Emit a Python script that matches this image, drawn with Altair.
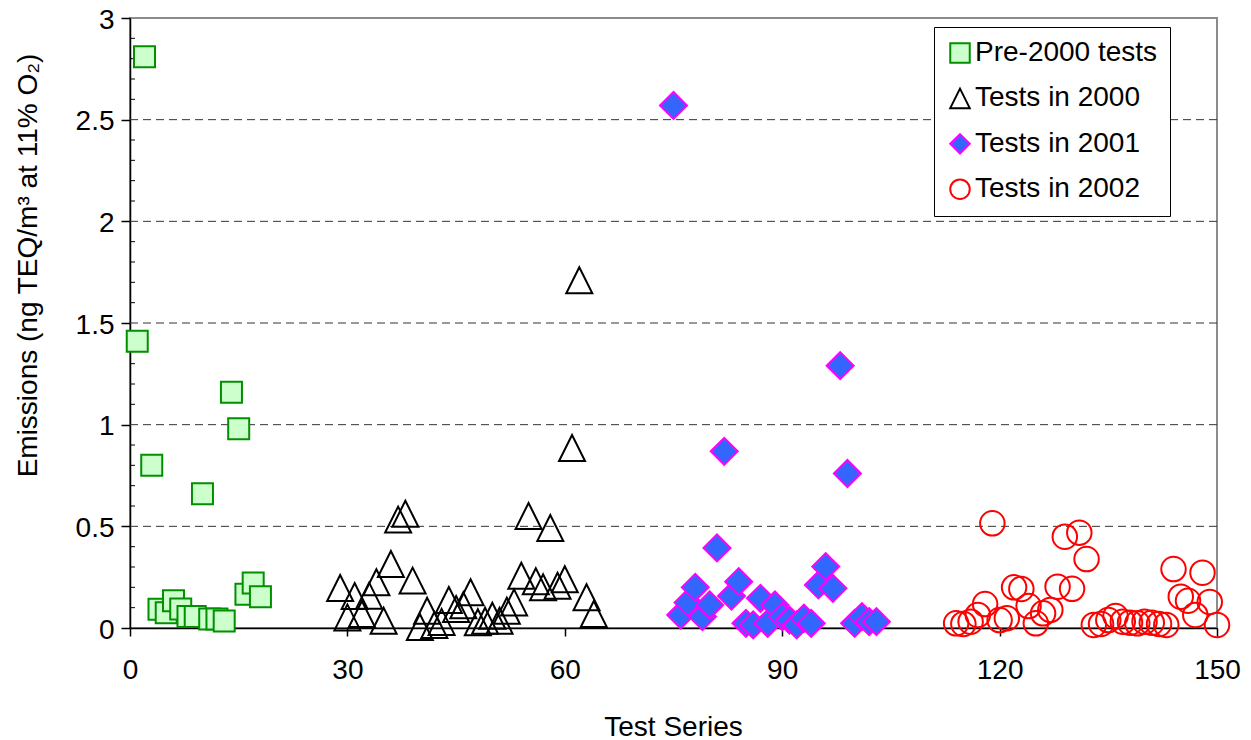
import altair as alt
import pandas as pd

FONT = "Liberation Sans"

SERIES = ["Pre-2000 tests", "Tests in 2000", "Tests in 2001", "Tests in 2002"]

PRE_X = [1, 2, 3, 4, 5, 6, 7, 8, 9, 10, 11, 12, 13, 14, 15, 16, 17, 18]
PRE_Y = [1.41, 2.81, 0.80, 0.092, 0.075, 0.134, 0.093, 0.056, 0.056, 0.66,
         0.044, 0.044, 0.034, 1.16, 0.98, 0.166, 0.221, 0.154]

T2000_X = [29, 30, 31, 32, 33, 34, 35, 36, 37, 38, 39, 40, 41, 42, 43, 44, 45, 46,
           47, 48, 49, 50, 51, 52, 53, 54, 55, 56, 57, 58, 59, 60, 61, 62, 63, 64]
T2000_Y = [0.197, 0.052, 0.157, 0.069, 0.159, 0.225, 0.036, 0.315, 0.533, 0.562,
           0.233, 0.005, 0.085, 0.015, 0.030, 0.138, 0.093, 0.112, 0.176, 0.028,
           0.036, 0.060, 0.036, 0.085, 0.126, 0.257, 0.551, 0.230, 0.200, 0.492,
           0.208, 0.240, 0.885, 1.71, 0.151, 0.069]

T2001_X = [75, 76, 77, 78, 79, 80, 81, 82, 83, 84, 85, 86, 87, 88, 89, 90, 91, 92,
           93, 94, 95, 96, 97, 98, 99, 100, 101, 102, 103]
T2001_Y = [2.57, 0.064, 0.125, 0.200, 0.056, 0.113, 0.394, 0.869, 0.157, 0.228,
           0.023, 0.015, 0.146, 0.023, 0.113, 0.056, 0.039, 0.015, 0.048, 0.023,
           0.212, 0.302, 0.195, 1.29, 0.76, 0.023, 0.056, 0.031, 0.031]

T2002_X = [114, 115, 116, 117, 118, 119, 120, 121, 122, 123, 124, 125, 126, 127,
           128, 129, 130, 131, 132, 133, 134, 135, 136, 137, 138, 139, 140, 141,
           142, 143, 144, 145, 146, 147, 148, 149, 150]
T2002_Y = [0.023, 0.020, 0.031, 0.064, 0.118, 0.515, 0.039, 0.048, 0.200, 0.192,
           0.108, 0.023, 0.072, 0.089, 0.203, 0.449, 0.193, 0.469, 0.339, 0.015,
           0.020, 0.039, 0.059, 0.031, 0.026, 0.023, 0.031, 0.026, 0.020, 0.015,
           0.290, 0.154, 0.134, 0.064, 0.272, 0.128, 0.015]

X_TICKS = [0, 30, 60, 90, 120, 150]
Y_TICKS = [0, 0.5, 1, 1.5, 2, 2.5, 3]
GRID_VALUES = [0.5, 1, 1.5, 2, 2.5]
MINOR_TICKS = [0.1, 0.2, 0.3, 0.4, 0.6, 0.7, 0.8, 0.9, 1.1, 1.2, 1.3, 1.4,
               1.6, 1.7, 1.8, 1.9, 2.1, 2.2, 2.3, 2.4, 2.6, 2.7, 2.8, 2.9]

# styles (kept apart from the data)
SHAPES = ["square", "M0,-1L-1,1L1,1Z", "diamond", "circle"]
FILLS = ["#CCFFCC", "transparent", "#3366FF", "transparent"]
STROKES = ["#009000", "#000000", "#FF00FF", "#FF0000"]
SIZES = [441, 676, 729, 600]

rows = []
for name, xs, ys in [(SERIES[0], PRE_X, PRE_Y), (SERIES[1], T2000_X, T2000_Y),
                     (SERIES[2], T2001_X, T2001_Y), (SERIES[3], T2002_X, T2002_Y)]:
    for xv, yv in zip(xs, ys):
        rows.append({"series": name, "test": xv, "emission": yv})
df = pd.DataFrame(rows)
df["idx"] = range(len(df))
df["sz"] = df["series"].map(dict(zip(SERIES, SIZES)))

x_scale = alt.Scale(domain=[0, 150], nice=False, zero=False)
y_scale = alt.Scale(domain=[0, 3], nice=False)

Y_TITLE = "Emissions (ng TEQ/m³ at 11% O₂)"


def y_axis():
    return alt.Axis(
        values=Y_TICKS, format=".1~f", title=Y_TITLE, grid=False,
        tickSize=9, labelPadding=7, labelFlush=False, labelOverlap=False,
        labelOffset=2, titleX=-94, titleY=247,
        titleAngle=270, titleBaseline="alphabetic", titleAlign="center")


leg = alt.Legend(
    title=None, orient="none", legendX=804, legendY=9, padding=12,
    strokeColor="black", fillColor="white", labelFont=FONT, labelFontSize=28,
    labelColor="black", labelLimit=500, symbolSize=380, symbolStrokeWidth=2,
    rowPadding=17.4, labelOffset=1, cornerRadius=0,
)

grid = alt.Chart(pd.DataFrame({"emission": GRID_VALUES})).mark_rule(
    color="#333333", strokeWidth=1, strokeDash=[8, 5]
).encode(y=alt.Y("emission:Q", scale=y_scale, axis=y_axis()))

minor = alt.Chart(pd.DataFrame({"emission": MINOR_TICKS})).mark_rule(
    color="black", strokeWidth=1
).encode(y=alt.Y("emission:Q", scale=y_scale, axis=y_axis()),
         x=alt.value(0), x2=alt.value(5))

points = alt.Chart(df).mark_point(opacity=1, strokeWidth=2).encode(
    x=alt.X("test:Q", scale=x_scale, axis=alt.Axis(
        values=X_TICKS, format="d", title="Test Series", grid=False,
        tickSize=8, labelPadding=20, labelFlush=False, labelOverlap=False,
        titleX=543, titleY=107,
        titleBaseline="alphabetic", titleAlign="center")),
    y=alt.Y("emission:Q", scale=y_scale, axis=y_axis()),
    shape=alt.Shape("series:N", scale=alt.Scale(domain=SERIES, range=SHAPES), legend=leg),
    fill=alt.Fill("series:N", scale=alt.Scale(domain=SERIES, range=FILLS), legend=leg),
    stroke=alt.Stroke("series:N", scale=alt.Scale(domain=SERIES, range=STROKES), legend=leg),
    size=alt.Size("sz:Q", scale=None),
    order=alt.Order("idx:Q"),
)

chart = alt.layer(grid, minor, points).properties(
    width=1087, height=610,
    autosize=alt.AutoSizeParams(type="none"),
    padding={"left": 122, "top": 10, "right": 26, "bottom": 116},
).configure_view(
    stroke="#8c8c8c", strokeWidth=2
).configure_axis(
    labelFont=FONT, titleFont=FONT, labelFontSize=28, titleFontSize=28,
    labelColor="black", titleColor="black", titleFontWeight="normal",
    domainColor="black", tickColor="black", domainWidth=1.5, tickWidth=1.5,
)

chart.save("out.html", embed_options={"renderer": "svg", "actions": False})
